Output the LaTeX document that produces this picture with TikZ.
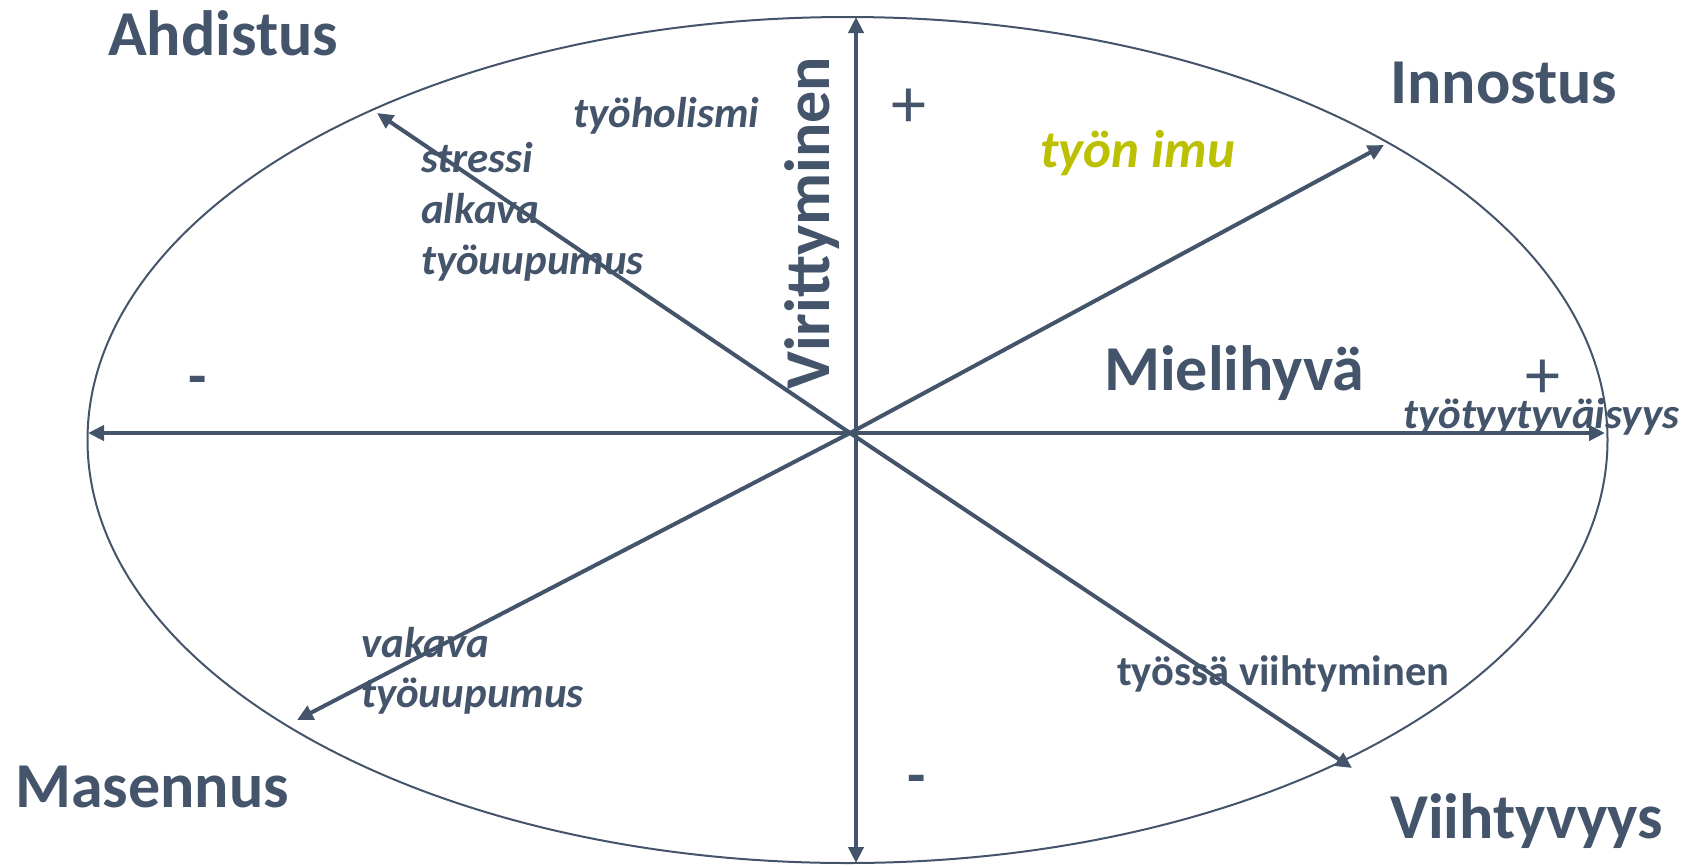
\documentclass[tikz,border=0pt]{standalone}
\usepackage{fontspec}
\setmainfont{Carlito}
\usetikzlibrary{arrows.meta}
\definecolor{slate}{RGB}{68,84,106}
\definecolor{lime}{RGB}{187,192,0}
\begin{document}
\begin{tikzpicture}[x=1pt, y=-1pt, line join=round, >={Triangle[length=16pt,width=15pt]}]
	\tikzset{every node/.style={text=slate, inner sep=0pt},
		big/.style={font=\bfseries\fontsize{64}{70}\selectfont},
		small/.style={font=\bfseries\itshape\fontsize{43}{50}\selectfont},
		sign/.style={font=\fontsize{70}{70}\selectfont},
		minus/.style={font=\bfseries\fontsize{60}{60}\selectfont},
		axis/.style={draw=slate, line width=4pt}}
	\useasboundingbox (0,0) rectangle (1696,865);
	\draw[slate, line width=2pt] (847.5,440) ellipse [x radius=760, y radius=423];
	% axes and diagonals
	\coordinate (O) at (850,433);
	\coordinate (W) at (88,433);   \coordinate (E) at (1605,433);
	\coordinate (N) at (856,17);   \coordinate (S) at (856,863);
	\draw[axis, <->] (W) -- (E);
	\draw[axis, <->] (N) -- (S);
	\foreach \p/\q in {ul/{377,113}, ur/{1384,145}, ll/{297,720}, lr/{1352,768}}
		{\coordinate (\p) at (\q); \draw[axis, ->] (O) -- (\p);}
	% corner labels
	\node[big, anchor=base west] (ahd) at (108,55) {Ahdistus};
	\node[big, anchor=base west] (inn) at (1390,103) {Innostus};
	\node[big, anchor=base west] (mas) at (15,807) {Masennus};
	\node[big, anchor=base west] (vii) at (1390,838) {Viihtyvyys};
	\node[big, anchor=base west] (mie) at (1104,390) {Mielihyvä};
	\node[big, anchor=base west, rotate=90] (vir) at (829,390) {Virittyminen};
	% states
	\node[small, anchor=base west] (hol) at (573,127) {työholismi};
	\foreach \t [count=\i from 0] in {stressi,alkava,työuupumus}
		\node[small, anchor=base west] (str\i) at (421,172+51*\i) {\t};
	\foreach \t [count=\i from 0] in {vakava,työuupumus}
		\node[small, anchor=base west] (vak\i) at (361,657+50*\i) {\t};
	\node[small, anchor=base west, text=lime, font=\bfseries\itshape\fontsize{53}{60}\selectfont] (imu) at (1040,167) {työn imu};
	\node[small, anchor=base west] (tyy) at (1403,428) {työtyytyväisyys};
	\node[anchor=base west, font=\bfseries\fontsize{42.5}{50}\selectfont] (via) at (1117,685) {työssä viihtyminen};
	% signs
	\node[sign] (p1) at (909,108) {+};
	\node[sign] (p2) at (1543,379) {+};
	\node[minus] (m1) at (198,386) {-};
	\node[minus] (m2) at (917,785) {-};
\end{tikzpicture}
\end{document}
